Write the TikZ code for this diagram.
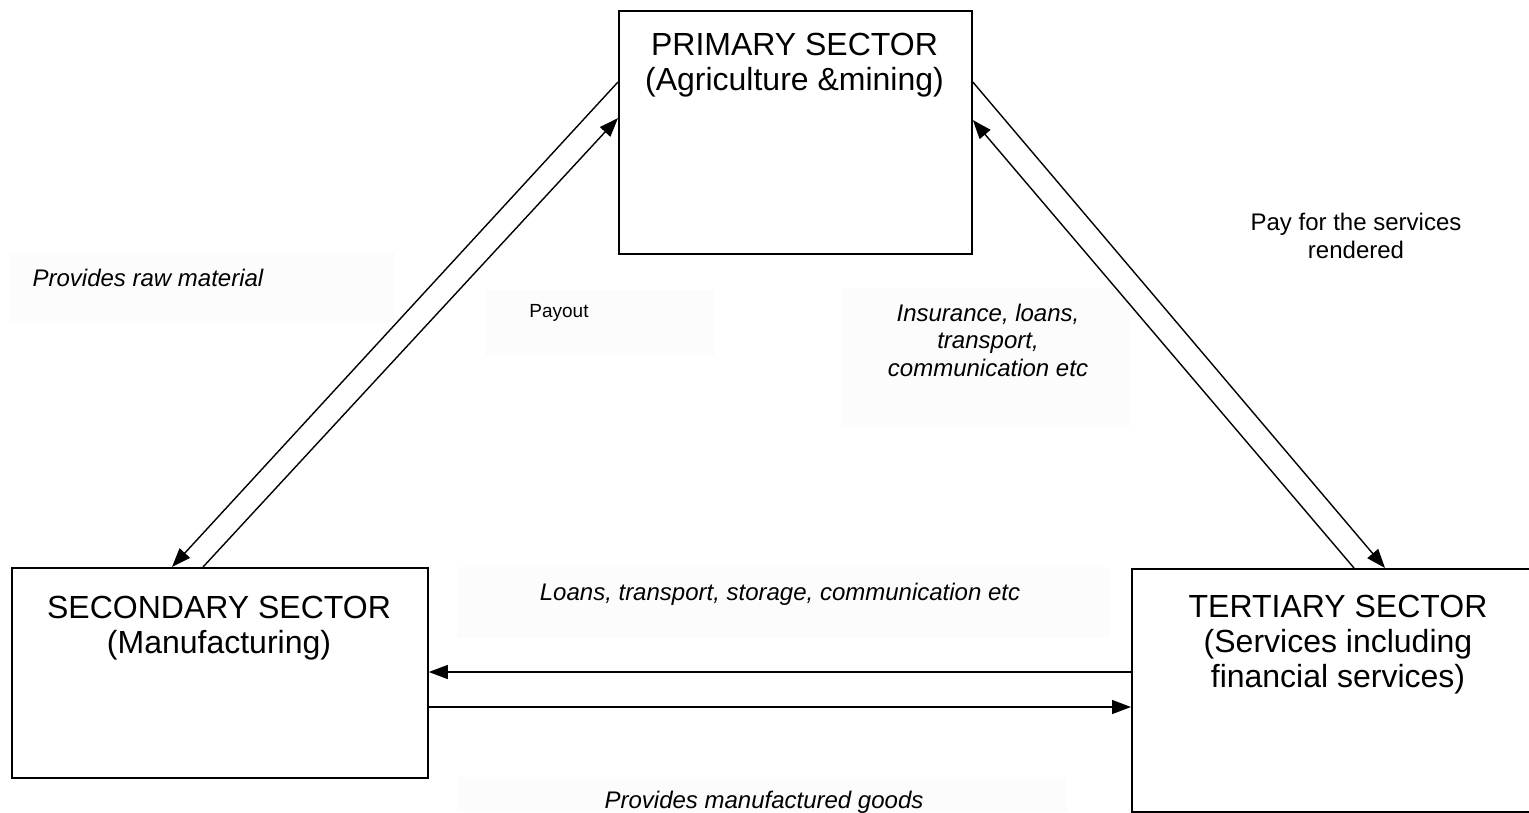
\documentclass[tikz,border=0pt]{standalone}
\usepackage{fontspec}
\setmainfont{Liberation Sans}
\usetikzlibrary{arrows.meta,calc}
\begin{document}
\begin{tikzpicture}[x=1pt,y=-1pt,
  box/.style={draw,line width=1.8pt,inner sep=0pt,anchor=north west},
  boxtext/.style={font=\fontsize{32}{35}\selectfont,align=center,inner sep=0pt,anchor=north},
  arr/.style={line width=1.4pt,-{Triangle[length=19pt,width=14pt]}},
  lbl/.style={font=\fontsize{24}{27.5}\selectfont\itshape,align=center,inner sep=0pt},
  lblup/.style={font=\fontsize{24}{28}\selectfont,align=center,inner sep=0pt},
  faint/.style={fill=black!1.2,draw=none}]
\useasboundingbox (0,0) rectangle (1529,812);
% faint text-box backgrounds
\fill[faint] (10,253) rectangle (395,323);
\fill[faint] (485,290) rectangle (715,355);
\fill[faint] (842,288) rectangle (1130,427);
\fill[faint] (457,567) rectangle (1109,638);
\fill[faint] (457,777) rectangle (1067,812);
% boxes
\node[box,minimum width=353pt,minimum height=243pt] (P) at (618,10) {};
\node[box,minimum width=416pt,minimum height=210pt] (S) at (11,567) {};
\node[box,minimum width=420pt,minimum height=243pt] (T) at (1131,568) {};
% box texts
\node[boxtext] (Pt) at (794.5,33) {PRIMARY SECTOR\\(Agriculture \&mining)};
\node[boxtext] (St) at (219,596) {SECONDARY SECTOR\\(Manufacturing)};
\node[boxtext] (Tt) at (1338,595) {TERTIARY SECTOR\\(Services including\\financial services)};
% diagonal connectors
\draw[arr] ($(P.north west)+(0,72)$) -- ($(S.north west)+(161,0)$);
\draw[arr] ($(S.north west)+(192,0)$) -- ($(P.north west)+(0,108)$);
\draw[arr] ($(P.north east)+(0,72)$) -- ($(T.north west)+(254,0)$);
\draw[arr] ($(T.north west)+(223,0)$) -- ($(P.north east)+(0,110)$);
% horizontal connectors
\draw[arr] ($(T.north west)+(0,104)$) -- ($(S.north east)+(0,105)$);
\draw[arr] ($(S.north east)+(0,140)$) -- ($(T.north west)+(0,139)$);
% labels
\node[lbl] (raw) at (148,278) {Provides raw material};
\node[lblup,font=\fontsize{19}{22}\selectfont] (pay) at (559,313) {Payout};
\node[lbl] (ins) at (988,340) {Insurance, loans,\\transport,\\communication etc};
\node[lblup] (srv) at (1356,236) {Pay for the services\\rendered};
\node[lbl] (loans) at (780,594) {Loans, transport, storage, communication etc};
\node[lbl] (goods) at (764,802) {Provides manufactured goods};
\end{tikzpicture}
\end{document}
